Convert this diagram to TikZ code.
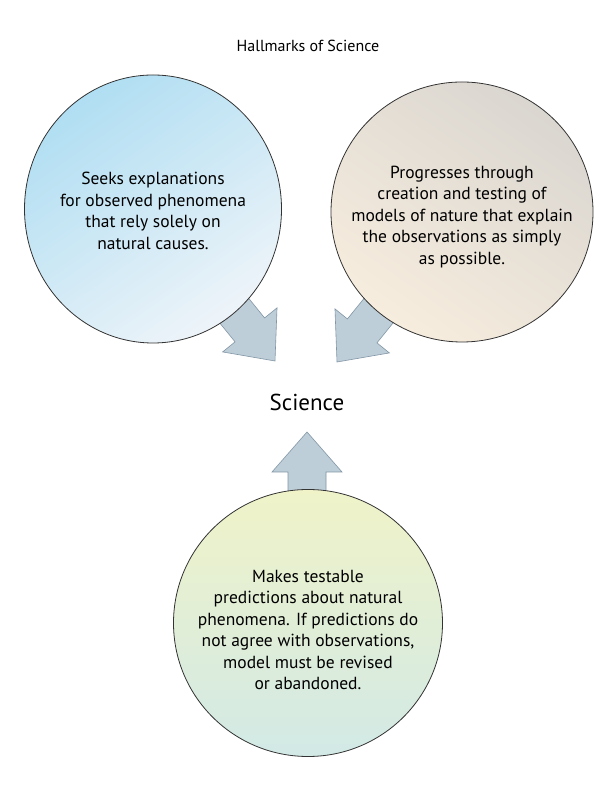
\documentclass[tikz,border=0pt]{standalone}
\usepackage{fontspec}
\setmainfont{PT Sans}
\usetikzlibrary{shapes.geometric}
\begin{document}
\begin{tikzpicture}[x=1pt,y=1pt,
  circ/.style={draw=black!80,line width=0.8pt,ellipse,inner sep=0pt},
  txt/.style={align=center,font=\fontsize{17.5}{21.5}\selectfont},
  arr/.style={fill={rgb,255:red,190;green,206;blue,217},draw={rgb,255:red,130;green,150;blue,165},line width=0.6pt}]
\useasboundingbox (0,0) rectangle (612,792);
\fill[white] (0,0) rectangle (612,792);
\newcommand{\bigarrow}[3]{\begin{scope}[shift={(#1,#2)},rotate=#3]
\draw[arr] (0,0) -- (-35,40) -- (-19,40) -- (-19,110) -- (19,110) -- (19,40) -- (35,40) -- cycle;
\end{scope}}
\bigarrow{275}{431}{39}
\bigarrow{337}{430}{-39}
\bigarrow{307}{360}{180}
\node[circ,minimum width=257pt,minimum height=268pt,shading=axis,top color={rgb,255:red,176;green,222;blue,242},bottom color={rgb,255:red,238;green,244;blue,249},shading angle=35] (c1) at (153,583) {};
\node[circ,minimum width=262pt,minimum height=260pt,shading=axis,top color={rgb,255:red,218;green,214;blue,208},bottom color={rgb,255:red,247;green,237;blue,222},shading angle=-35] (c2) at (462,580) {};
\node[circ,minimum width=269pt,minimum height=267pt,shading=axis,top color={rgb,255:red,240;green,243;blue,200},bottom color={rgb,255:red,210;green,233;blue,230}] (c3) at (308,169) {};
\node[txt] (t1) at (153,581) {Seeks explanations\\for observed phenomena\\that rely solely on\\natural causes.};
\node[txt] (t2) at (462,575) {Progresses through\\creation and testing of\\models of nature that explain\\the observations as simply\\as possible.};
\node[txt] (t3) at (308,162) {Makes testable\\predictions about natural\\phenomena. If predictions do\\not agree with observations,\\model must be revised\\or abandoned.};
\node[font=\fontsize{23}{27}\selectfont] (sci) at (307,390) {Science};
\node[font=\fontsize{16}{19}\selectfont] (title) at (308,746) {Hallmarks of Science};
\end{tikzpicture}
\end{document}
